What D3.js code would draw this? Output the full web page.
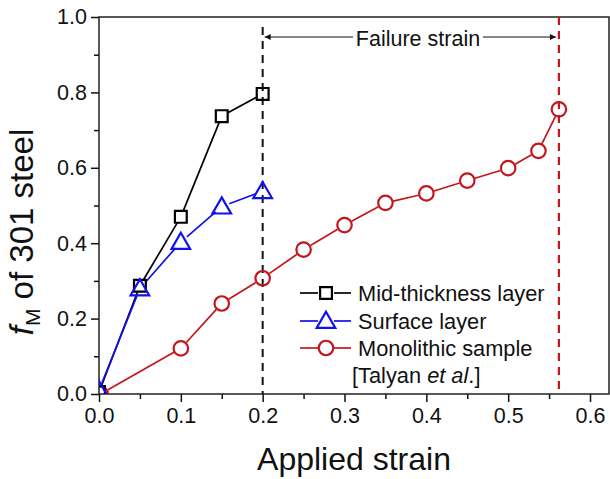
<!DOCTYPE html>
<html>
<head>
<meta charset="utf-8">
<script src="https://cdn.jsdelivr.net/npm/d3@7"></script>
<style>
  body { margin: 0; background: #fff; }
  svg { display: block; font-family: "Liberation Sans", Arial, sans-serif; }
</style>
</head>
<body>
<div id="vis"></div>
<script>
// data
var midStrain = [0, 0.05, 0.1, 0.15, 0.2];
var midFm = [0.005, 0.287, 0.47, 0.737, 0.796];

var surfStrain = [0, 0.05, 0.1, 0.15, 0.2];
var surfFm = [0.01, 0.28, 0.403, 0.497, 0.538];

var monoStrain = [0.002, 0.1, 0.15, 0.2, 0.25, 0.3, 0.35, 0.4, 0.45, 0.5, 0.537, 0.562];
var monoFm = [0.0, 0.121, 0.24, 0.307, 0.383, 0.448, 0.507, 0.532, 0.566, 0.599, 0.645, 0.755];

var failMid = 0.2;
var failMono = 0.562;

var xTicks = [0, 0.1, 0.2, 0.3, 0.4, 0.5, 0.6];
var yTicks = [0, 0.2, 0.4, 0.6, 0.8, 1.0];
var legendLabels = ["Mid-thickness layer", "Surface layer", "Monolithic sample"];

var width = 610, height = 479;
var plotLeft = 99, plotRight = 609, plotTop = 17, plotBottom = 394;

var red = "#c4161c", blue = "#1010f0";

var x = d3.scaleLinear().domain([0, 0.6232]).range([plotLeft, plotRight]);
var y = d3.scaleLinear().domain([0, 1]).range([plotBottom, plotTop]);

var svg = d3.select("#vis").append("svg")
  .attr("width", width)
  .attr("height", height);

svg.append("defs").append("clipPath")
  .attr("id", "plotclip")
  .append("rect")
  .attr("x", plotLeft).attr("y", plotTop)
  .attr("width", plotRight - plotLeft).attr("height", plotBottom - plotTop);

// minor ticks (midpoints)
function mids(arr, max) {
  var out = [];
  for (var i = 0; i < arr.length; i++) {
    var m = arr[i] + (arr[1] - arr[0]) / 2;
    if (m <= max) out.push(m);
  }
  return out;
}

svg.append("g")
  .attr("transform", "translate(0," + plotBottom + ")")
  .call(d3.axisBottom(x).tickValues(mids(xTicks, 0.62)).tickSize(5).tickFormat(""))
  .call(function (g) { g.select(".domain").remove(); });
svg.append("g")
  .attr("transform", "translate(" + plotLeft + ",0)")
  .call(d3.axisLeft(y).tickValues(mids(yTicks, 1)).tickSize(5).tickFormat(""))
  .call(function (g) { g.select(".domain").remove(); });

var xAxis = svg.append("g")
  .attr("transform", "translate(0," + plotBottom + ")")
  .call(d3.axisBottom(x).tickValues(xTicks).tickSize(8).tickPadding(6).tickFormat(d3.format(".1f")));
xAxis.select(".domain").remove();
xAxis.attr("font-size", 21.5).attr("font-family", null);
xAxis.selectAll("text").attr("fill", "#111");

var yAxis = svg.append("g")
  .attr("transform", "translate(" + plotLeft + ",0)")
  .call(d3.axisLeft(y).tickValues(yTicks).tickSize(8).tickPadding(4).tickFormat(d3.format(".1f")));
yAxis.select(".domain").remove();
yAxis.attr("font-size", 21.5).attr("font-family", null);
yAxis.selectAll("text").attr("fill", "#111");

svg.selectAll(".tick line").attr("stroke", "#111").attr("stroke-width", 1.5);

// frame
svg.append("rect")
  .attr("x", plotLeft).attr("y", plotTop)
  .attr("width", plotRight - plotLeft).attr("height", plotBottom - plotTop)
  .attr("fill", "none").attr("stroke", "#222").attr("stroke-width", 1.5);

// failure strain lines
svg.append("line")
  .attr("x1", x(failMid)).attr("x2", x(failMid))
  .attr("y1", 27).attr("y2", plotBottom)
  .attr("stroke", "#111").attr("stroke-width", 2).attr("stroke-dasharray", "8,6");
svg.append("line")
  .attr("x1", x(failMono)).attr("x2", x(failMono))
  .attr("y1", plotTop).attr("y2", plotBottom)
  .attr("stroke", red).attr("stroke-width", 2.2).attr("stroke-dasharray", "8,6");

// arrows
var defs = svg.append("defs");
defs.append("marker")
  .attr("id", "arrow")
  .attr("viewBox", "0 0 10 10")
  .attr("refX", 10).attr("refY", 5)
  .attr("markerWidth", 12).attr("markerHeight", 6)
  .attr("markerUnits", "userSpaceOnUse")
  .attr("orient", "auto")
  .append("path").attr("d", "M0,0L10,5L0,10z").attr("fill", "#111");

var arrowY = 37;
var labelMid = 418;
svg.append("line")
  .attr("x1", 353).attr("x2", x(failMid) + 2)
  .attr("y1", arrowY).attr("y2", arrowY)
  .attr("stroke", "#111").attr("stroke-width", 1.2)
  .attr("marker-end", "url(#arrow)");
svg.append("line")
  .attr("x1", 483).attr("x2", x(failMono) - 3)
  .attr("y1", arrowY).attr("y2", arrowY)
  .attr("stroke", "#111").attr("stroke-width", 1.2)
  .attr("marker-end", "url(#arrow)");
svg.append("text")
  .attr("x", labelMid).attr("y", 46)
  .attr("text-anchor", "middle")
  .attr("font-size", 21.5)
  .attr("fill", "#111")
  .text("Failure strain");

// series with gapped lines
function pts(xs, ys) {
  return xs.map(function (v, i) { return [x(v), y(ys[i])]; });
}

var plotArea = svg.append("g").attr("clip-path", "url(#plotclip)");

function drawSeries(p, color, gap) {
  var g = plotArea.append("g");
  for (var i = 0; i < p.length - 1; i++) {
    var dx = p[i + 1][0] - p[i][0], dy = p[i + 1][1] - p[i][1];
    var len = Math.sqrt(dx * dx + dy * dy);
    if (len < 2 * gap) continue;
    var ux = dx / len, uy = dy / len;
    g.append("line")
      .attr("x1", p[i][0] + ux * gap).attr("y1", p[i][1] + uy * gap)
      .attr("x2", p[i + 1][0] - ux * gap).attr("y2", p[i + 1][1] - uy * gap)
      .attr("stroke", color).attr("stroke-width", 1.7);
  }
  return g;
}

var square = d3.symbol().type(d3.symbolSquare).size(140);
var triangle = d3.symbol().type(d3.symbolTriangle).size(150);
var circle = d3.symbol().type(d3.symbolCircle).size(165);

function drawMarkers(p, sym, color, dy) {
  plotArea.append("g").selectAll("path")
    .data(p)
    .enter().append("path")
    .attr("d", sym)
    .attr("transform", function (d) { return "translate(" + d[0] + "," + (d[1] + (dy || 0)) + ")"; })
    .attr("fill", "none")
    .attr("stroke", color)
    .attr("stroke-width", 2.2);
}

var midP = pts(midStrain, midFm);
var surfP = pts(surfStrain, surfFm);
var monoP = pts(monoStrain, monoFm);

drawSeries(monoP, red, 8);
drawSeries(midP, "#000", 7);
drawSeries(surfP, blue, 8);
drawMarkers(monoP, circle, red);
drawMarkers(midP, square, "#000");
drawMarkers(surfP, triangle, blue, 1.5);

// legend
var legendY = [293, 321, 348];
var legendSyms = [square, triangle, circle];
var legendColors = ["#000", blue, red];
var legend = svg.append("g");
legendLabels.forEach(function (lab, i) {
  var ly = legendY[i];
  legend.append("line")
    .attr("x1", 300).attr("x2", 318).attr("y1", ly).attr("y2", ly)
    .attr("stroke", legendColors[i]).attr("stroke-width", 1.7);
  legend.append("line")
    .attr("x1", 334).attr("x2", 351).attr("y1", ly).attr("y2", ly)
    .attr("stroke", legendColors[i]).attr("stroke-width", 1.7);
  legend.append("path")
    .attr("d", legendSyms[i])
    .attr("transform", "translate(326," + (ly + (i == 1 ? 1.5 : 0)) + ")")
    .attr("fill", "none").attr("stroke", legendColors[i]).attr("stroke-width", 2.2);
  legend.append("text")
    .attr("x", 358).attr("y", ly + 7.5)
    .attr("font-size", 21.8).attr("fill", "#111")
    .text(lab);
});
var ref = legend.append("text")
  .attr("x", 352).attr("y", 383)
  .attr("font-size", 21.8).attr("fill", "#111");
ref.append("tspan").text("[Talyan ");
ref.append("tspan").attr("font-style", "italic").text("et al");
ref.append("tspan").text(".]");

// axis titles
svg.append("text")
  .attr("x", 354).attr("y", 470)
  .attr("text-anchor", "middle")
  .attr("font-size", 32).attr("fill", "#111")
  .text("Applied strain");

var yt = svg.append("text")
  .attr("transform", "translate(33,232) rotate(-90)")
  .attr("text-anchor", "middle")
  .attr("font-size", 33).attr("fill", "#111");
yt.append("tspan").attr("font-style", "italic").text("f");
yt.append("tspan").attr("font-size", 21).attr("dy", 7).text("M");
yt.append("tspan").attr("dy", -7).text(" of 301 steel");
</script>
</body>
</html>
